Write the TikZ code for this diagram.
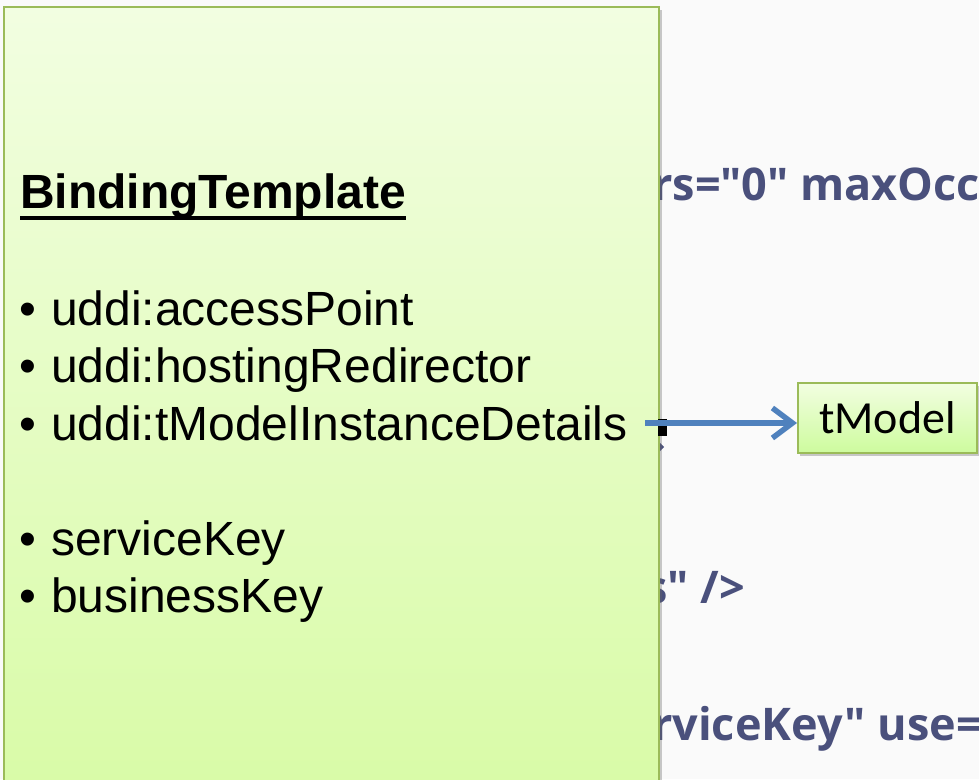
\documentclass[tikz,border=0pt]{standalone}
\usepackage{fontspec}
\setmainfont{Liberation Sans}
\newfontfamily\calib{Carlito}
\newfontfamily\bgfont{Open Sans}
\usetikzlibrary{arrows.meta,shadows}
\definecolor{pagebg}{RGB}{250,250,250}
\definecolor{slate}{RGB}{74,80,124}
\definecolor{boxline}{RGB}{155,187,89}
\definecolor{boxtop}{RGB}{242,254,225}
\definecolor{boxbot}{RGB}{216,251,166}
\definecolor{arrowblue}{RGB}{79,129,189}
\tikzset{
  bgtext/.style={inner sep=0pt, anchor=base west, text=slate, font=\bgfont\bfseries\fontsize{45}{52}\selectfont},
  bigbox/.style={draw=boxline, line width=2pt, top color=boxtop, bottom color=boxbot,
     drop shadow={shadow xshift=3pt, shadow yshift=-3pt, opacity=0.35, fill=black!60}},
  smallbox/.style={draw=boxline, line width=2pt, top color=boxtop, bottom color=boxbot!95!green,
     drop shadow={shadow xshift=2pt, shadow yshift=-3pt, opacity=0.35, fill=black!60},
     minimum width=179pt, minimum height=70pt, inner sep=0pt, font=\calib\fontsize{46}{55}\selectfont},
  titletext/.style={inner sep=0pt, anchor=base west, font=\bfseries\fontsize{48}{56}\selectfont},
  itemtext/.style={inner sep=0pt, anchor=base west, font=\fontsize{48}{57}\selectfont},
  arr/.style={draw=arrowblue, line width=5.5pt, -{Straight Barb[length=20pt,width=30pt]}}
}
\newcommand{\itm}[1]{\makebox[32pt][l]{•}#1}
\begin{document}
\begin{tikzpicture}[x=1pt,y=-1pt]
\useasboundingbox (0,0) rectangle (979,779);
\clip (0,0) rectangle (979,779);
\fill[pagebg] (0,0) rectangle (979,779);
% background slide text (mostly hidden)
\node[bgtext] (bg1) at (652,200) {rs="0" maxOccurs};
\node[bgtext] (bg2) at (645,603) {s" />};
\node[bgtext] (bg3) at (652,740) {rviceKey" use=};
\fill[slate] (659,442) -- (664,447) -- (659,452) -- cycle;
% big box
\node[bigbox, anchor=north west, minimum width=655pt, minimum height=800pt] (box) at (3,6) {};
\fill[black] (658,419) rectangle (667,436);
\node[titletext] (title) at (20,208) {BindingTemplate};
\draw[line width=4pt] ([yshift=-10pt]title.base west) -- ([yshift=-10pt]title.base east);
\node[itemtext] (i1) at (19,325) {\itm{uddi:accessPoint}};
\node[itemtext] (i2) at (19,382.5) {\itm{uddi:hostingRedirector}};
\node[itemtext] (i3) at (19,440) {\itm{uddi:tModelInstanceDetails}};
\node[itemtext] (i4) at (19,555) {\itm{serviceKey}};
\node[itemtext] (i5) at (19,612) {\itm{businessKey}};
% tModel
\node[smallbox] (tm) at (887.5,418) {tModel};
\coordinate (as) at (645,423);
\draw[arr] (as) -- (as -| tm.west);
\end{tikzpicture}
\end{document}
